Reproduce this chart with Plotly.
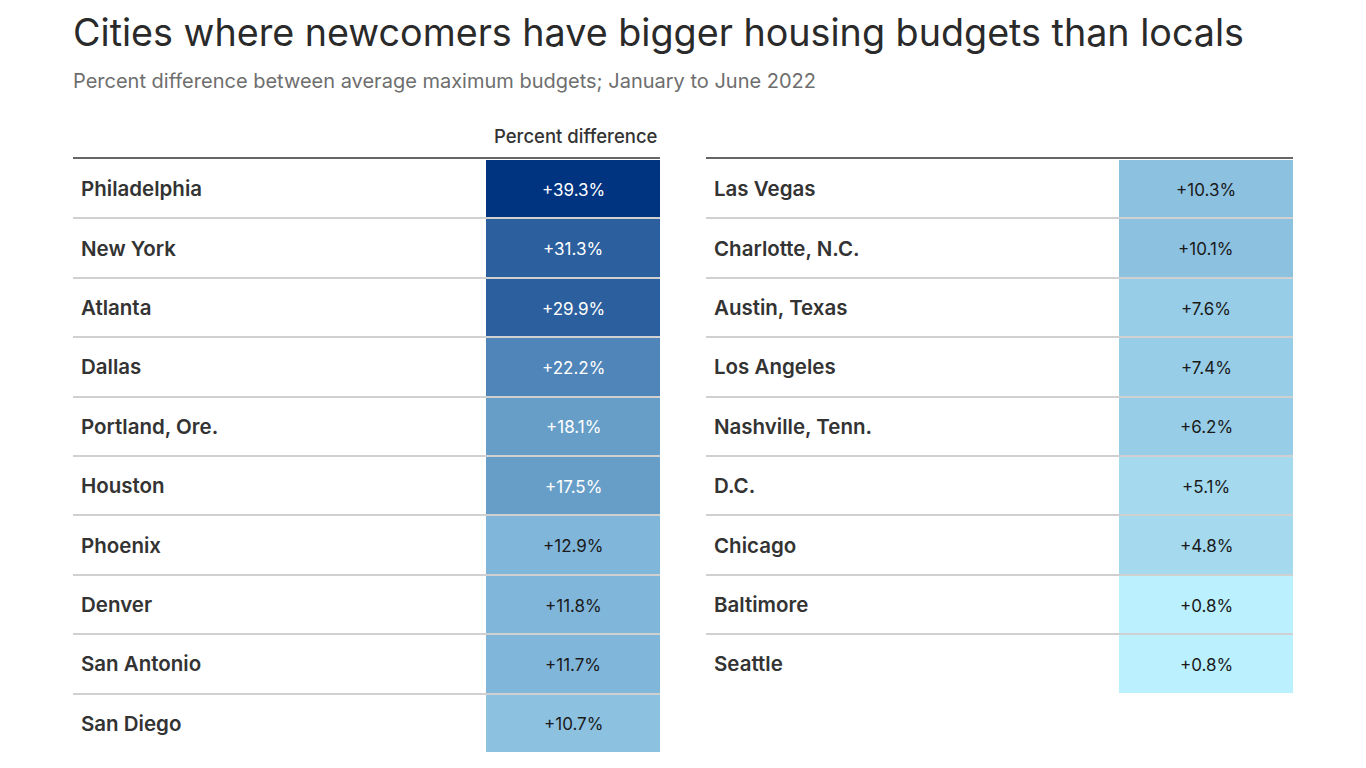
import plotly.graph_objects as go

# ---- data ----
left_cities = ["Philadelphia", "New York", "Atlanta", "Dallas", "Portland, Ore.",
               "Houston", "Phoenix", "Denver", "San Antonio", "San Diego"]
left_values = [39.3, 31.3, 29.9, 22.2, 18.1, 17.5, 12.9, 11.8, 11.7, 10.7]
right_cities = ["Las Vegas", "Charlotte, N.C.", "Austin, Texas", "Los Angeles",
                "Nashville, Tenn.", "D.C.", "Chicago", "Baltimore", "Seattle"]
right_values = [10.3, 10.1, 7.6, 7.4, 6.2, 5.1, 4.8, 0.8, 0.8]

title = "Cities where newcomers have bigger housing budgets than locals"
subtitle = "Percent difference between average maximum budgets; January to June 2022"
header = "Percent difference"

# quantized color bins
bin_edges = [0, 4, 6, 8, 11, 13, 20, 25, 35, 40]
bin_colors = ["#bbf1ff", "#a4d9ee", "#97cde6", "#8cc1e0", "#80b6da",
              "#669ec8", "#4f85b8", "#2c5f9e", "#003380"]
dark_threshold = 15  # values above get white text

# ---- styling ----
FONT = "Inter"
TXT = "#333333"
OFF = 8  # page body margin
W, H = 1366 - OFF, 768 - OFF


def px_x(p):
    return (p - OFF) / W


def px_y(p):
    return 1 - (p - OFF) / H


ZMIN, ZMAX = bin_edges[0], bin_edges[-1]
colorscale = []
for i, c in enumerate(bin_colors):
    colorscale.append([(bin_edges[i] - ZMIN) / (ZMAX - ZMIN), c])
    colorscale.append([(bin_edges[i + 1] - ZMIN) / (ZMAX - ZMIN), c])

TABLE_W = 587
CELL_X0 = 413
NROWS = 10
ydom = [px_y(753), px_y(159)]
x_domains = [[px_x(73), px_x(660)], [px_x(706), px_x(1293)]]

fig = go.Figure()
annotations = []

for k, (cities, vals) in enumerate([(left_cities, left_values), (right_cities, right_values)]):
    xa = "x" if k == 0 else "x2"
    ya = "y" if k == 0 else "y2"
    n = len(vals)
    fig.add_trace(go.Heatmap(
        z=[[v] for v in vals],
        x=[CELL_X0, TABLE_W],
        y=list(range(n + 1)),
        colorscale=colorscale, zmin=ZMIN, zmax=ZMAX,
        showscale=False, ygap=2, hoverinfo="skip",
        xaxis=xa, yaxis=ya,
    ))
    for i, v in enumerate(vals):
        annotations.append(dict(
            x=(CELL_X0 + TABLE_W) / 2, y=i + 0.5, xref=xa, yref=ya,
            text=f"+{v:.1f}%", showarrow=False, xanchor="center", yanchor="middle",
            yshift=-1,
            font=dict(family=FONT, size=17,
                      color="#ffffff" if v > dark_threshold else "#1a1a1a"),
        ))
    for i, c in enumerate(cities):
        annotations.append(dict(
            x=6, y=i + 0.5, xref=xa, yref=ya, text=c, showarrow=False,
            xanchor="left", yanchor="middle",
            font=dict(family=FONT, size=20.5, color=TXT, weight=600),
        ))
    axis_x = dict(domain=x_domains[k], range=[0, TABLE_W], side="top",
                  showline=True, linecolor="#666666", linewidth=2,
                  showgrid=False, zeroline=False, showticklabels=False, ticks="",
                  fixedrange=True)
    axis_y = dict(domain=ydom, range=[NROWS, 0], tickvals=list(range(1, n)),
                  showticklabels=False, ticks="", showgrid=True,
                  gridcolor="#d0d0d0", gridwidth=2, zeroline=False,
                  showline=False, fixedrange=True)
    if k == 0:
        fig.update_layout(xaxis=axis_x, yaxis=axis_y)
    else:
        axis_x["anchor"] = "y2"
        axis_y["anchor"] = "x2"
        fig.update_layout(xaxis2=axis_x, yaxis2=axis_y)

annotations.append(dict(
    x=(CELL_X0 + TABLE_W) / 2, y=px_y(136), xref="x", yref="paper",
    text=header, showarrow=False, xanchor="center", yanchor="middle", xshift=3,
    font=dict(family=FONT, size=18.5, color=TXT, weight=500),
))
annotations.append(dict(
    x=px_x(71), y=px_y(81), xref="paper", yref="paper", text=subtitle,
    showarrow=False, xanchor="left", yanchor="middle",
    font=dict(family=FONT, size=20, color="#6e6e6e"),
))
annotations.append(dict(
    x=px_x(72), y=1, xref="paper", yref="paper", text=title,
    showarrow=False, xanchor="left", yanchor="top", borderpad=0,
    font=dict(family=FONT, size=37.7, color="#2a2a2a"),
))

fig.update_layout(
    width=W, height=H, autosize=False,
    margin=dict(l=0, r=0, t=0, b=0),
    paper_bgcolor="white", plot_bgcolor="white",
    annotations=annotations,
    showlegend=False,
)

fig.write_html("out.html", config={"displayModeBar": False})
